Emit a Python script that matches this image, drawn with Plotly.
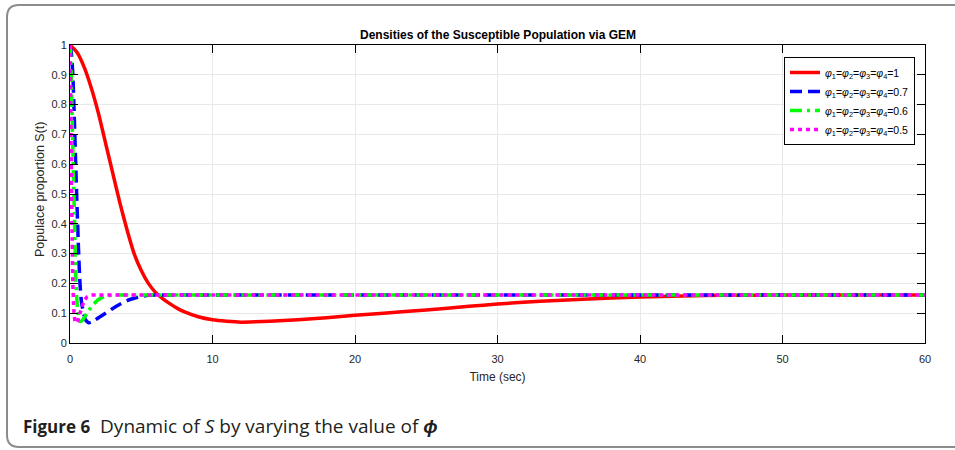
import plotly.graph_objects as go

# ---------------- data ----------------
t_red = [0, 0.5, 1, 1.5, 2, 2.5, 3, 3.5, 4, 4.5, 5, 5.5, 6, 6.5, 7, 7.5, 8, 9, 10, 11, 12, 13, 14,
         16, 18, 20, 22, 25, 28, 30, 33, 36, 40, 43, 46, 50, 55, 60]
s_red = [1.0, 0.975, 0.925, 0.855, 0.77, 0.67, 0.57, 0.47, 0.38, 0.300, 0.243, 0.200, 0.170,
         0.149, 0.132, 0.117, 0.105, 0.088, 0.078, 0.073, 0.070, 0.071, 0.073, 0.078, 0.085,
         0.093, 0.100, 0.111, 0.123, 0.131, 0.140, 0.147, 0.154, 0.158, 0.160, 0.161, 0.161, 0.161]

t_blue = [0, 0.1, 0.2, 0.3, 0.4, 0.5, 0.6, 0.7, 0.8, 0.95, 1.1, 1.3, 1.5, 1.8, 2.1, 2.5, 3.0,
          3.5, 4.0, 4.5, 5.0, 5.5, 6, 7, 60]
s_blue = [1.0, 0.97, 0.90, 0.76, 0.60, 0.45, 0.31, 0.20, 0.14, 0.10, 0.077, 0.068, 0.070,
          0.078, 0.088, 0.100, 0.116, 0.130, 0.142, 0.150, 0.156, 0.160, 0.161, 0.161, 0.161]

t_green = [0, 0.05, 0.1, 0.15, 0.2, 0.25, 0.3, 0.35, 0.4, 0.45, 0.5, 0.6, 0.7, 0.85, 1.0, 1.2,
           1.5, 2.0, 2.5, 3.0, 3.5, 60]
s_green = [1.0, 0.96, 0.88, 0.76, 0.65, 0.55, 0.45, 0.33, 0.23, 0.17, 0.13, 0.09, 0.072,
           0.075, 0.085, 0.100, 0.122, 0.146, 0.157, 0.161, 0.161, 0.161]

t_mag = [0, 0.05, 0.1, 0.15, 0.2, 0.27, 0.35, 0.45, 0.55, 0.7, 0.85, 1.0, 1.2, 1.5, 2.0, 60]
s_mag = [1.0, 0.80, 0.55, 0.35, 0.20, 0.11, 0.075, 0.067, 0.075, 0.100, 0.122, 0.142, 0.155,
         0.161, 0.161, 0.161]

labels = ["<i>φ</i><sub>1</sub>=<i>φ</i><sub>2</sub>=<i>φ</i><sub>3</sub>=<i>φ</i><sub>4</sub>=1",
          "<i>φ</i><sub>1</sub>=<i>φ</i><sub>2</sub>=<i>φ</i><sub>3</sub>=<i>φ</i><sub>4</sub>=0.7",
          "<i>φ</i><sub>1</sub>=<i>φ</i><sub>2</sub>=<i>φ</i><sub>3</sub>=<i>φ</i><sub>4</sub>=0.6",
          "<i>φ</i><sub>1</sub>=<i>φ</i><sub>2</sub>=<i>φ</i><sub>3</sub>=<i>φ</i><sub>4</sub>=0.5"]

x_ticks = [0, 10, 20, 30, 40, 50, 60]
y_ticks = [0, 0.1, 0.2, 0.3, 0.4, 0.5, 0.6, 0.7, 0.8, 0.9, 1]
y_ticktext = ["0", "0.1", "0.2", "0.3", "0.4", "0.5", "0.6", "0.7", "0.8", "0.9", "1"]

# ---------------- figure ----------------
W, H = 955, 450
L, R, T, B = 70, 30, 45, 107
pw, ph = W - L - R, H - T - B

def px(xp):
    return (xp - L) / pw

def py(yp):
    return (H - B - yp) / ph

FONT = "Arial, Liberation Sans, sans-serif"

fig = go.Figure()
series = [
    (t_red, s_red, "#ff0000", "solid", labels[0]),
    (t_blue, s_blue, "#0000ff", "12px,6px", labels[1]),
    (t_green, s_green, "#00ff00", "12px,5px,3px,5px", labels[2]),
    (t_mag, s_mag, "#ff00ff", "4px,4px", labels[3]),
]
for tx, sy, col, dash, name in series:
    fig.add_trace(go.Scatter(x=tx, y=sy, mode="lines", name=name,
                             line=dict(color=col, width=3.5, dash=dash, shape="spline",
                                       smoothing=0.5)))

axis_common = dict(showline=True, linecolor="black", linewidth=1, mirror="ticks",
                   ticks="inside", ticklen=8, tickcolor="black", tickwidth=1,
                   showgrid=True, gridcolor="#e8e8e8", gridwidth=1, zeroline=False,
                   tickfont=dict(family=FONT, size=11, color="#262626"))

fig.update_xaxes(range=[0, 60], tickvals=x_ticks, ticklabelstandoff=6,
                 title=dict(text="Time (sec)",
                            font=dict(family=FONT, size=12, color="#262626"), standoff=8),
                 **axis_common)
fig.update_yaxes(range=[0, 1], tickvals=y_ticks, ticktext=y_ticktext, ticklabelstandoff=0,
                 **axis_common)

# y axis title placed as rotated text
fig.add_annotation(xref="paper", yref="paper", x=px(40), y=py(189), xanchor="center",
                   yanchor="middle", textangle=-90, showarrow=False,
                   text="Populace proportion S(t)",
                   font=dict(family=FONT, size=12.5, color="#262626"))

# card border (rounded)
x0, x1, y0, y1, r = px(7), px(960), py(5), py(447), 12
rx, ry = r / pw, r / ph
path = (f"M {x0+rx} {y0} L {x1} {y0} L {x1} {y1} L {x0+rx} {y1} "
        f"Q {x0} {y1} {x0} {y1+ry} L {x0} {y0-ry} Q {x0} {y0} {x0+rx} {y0} Z")
fig.add_shape(type="path", xref="paper", yref="paper", path=path,
              line=dict(color="#8c8c8c", width=2), layer="below")

fig.add_annotation(xref="paper", yref="paper", x=0.5, y=py(35), yanchor="middle",
                   text="<b>Densities of the Susceptible Population via GEM</b>", showarrow=False,
                   font=dict(family=FONT, size=12, color="black"))

fig.add_annotation(xref="paper", yref="paper", x=px(21), y=py(426), xanchor="left",
                   yanchor="middle", showarrow=False,
                   text=("<b><span style='font-size:17px'>Figure 6</span></b>"
                         "  Dynamic of <i>S</i> by varying the value of <i><b>ϕ</b></i>"),
                   font=dict(family="Open Sans, sans-serif", size=19, color="#231f20"))

fig.update_layout(
    width=W, height=H, margin=dict(l=L, r=R, t=T, b=B),
    paper_bgcolor="white", plot_bgcolor="white",
    showlegend=True,
    legend=dict(x=px(915), y=py(57), xanchor="right", yanchor="top",
                bgcolor="white", bordercolor="black", borderwidth=1,
                font=dict(family=FONT, size=10.5, color="black"),
                itemwidth=30, tracegroupgap=0),
)

fig.write_html("out.html")
